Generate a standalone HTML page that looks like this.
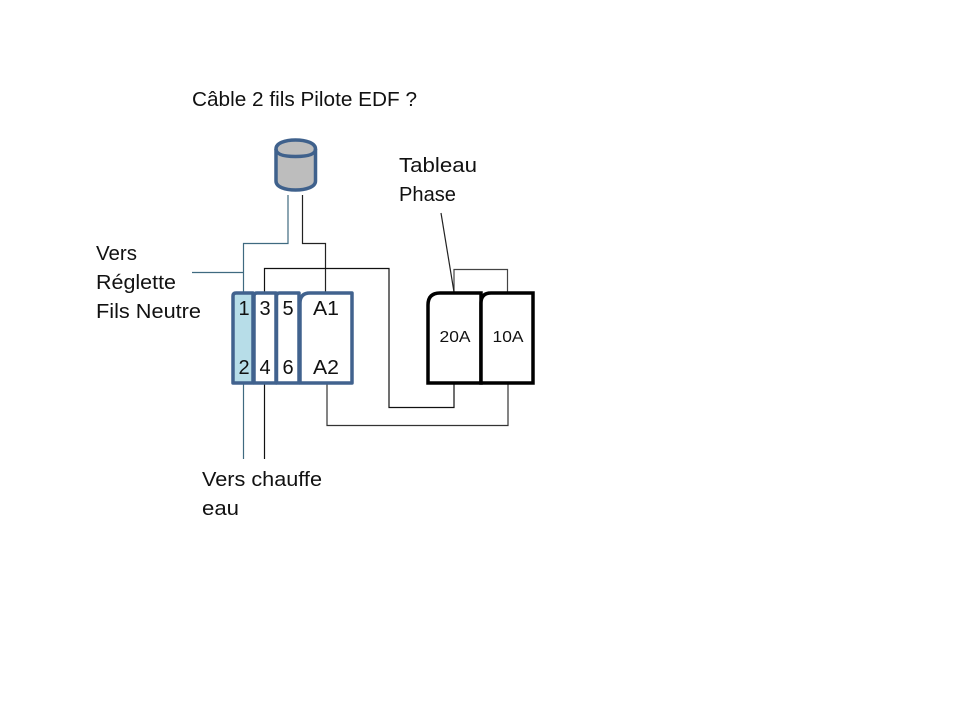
<!DOCTYPE html>
<html>
<head>
<meta charset="utf-8">
<style>
html,body{margin:0;padding:0;background:#fff}
svg{display:block}
text{font-family:"Liberation Sans",sans-serif;fill:#111}
</style>
</head>
<body>
<svg width="960" height="720" viewBox="0 0 960 720" xmlns="http://www.w3.org/2000/svg">
<rect width="960" height="720" fill="#fff"/>
<!-- wires -->
<g fill="none" stroke-width="1.2">
<path d="M288 195V243.500H243.500V292" stroke="#3f6a80"/>
<path d="M192 272.500H243" stroke="#3f6a80"/>
<path d="M243.500 382V459" stroke="#3f6a80"/>
<path d="M302.500 195V243.500H325.500V292" stroke="#222"/>
<path d="M264.500 292V268.500H389V407.500H454V383" stroke="#111"/>
<path d="M264.500 382V459" stroke="#111"/>
<path d="M327 383V425.500H508V383" stroke="#333"/>
<path d="M454 293V269.500H507.500V293" stroke="#444"/>
<path d="M441 213L454 292" stroke="#222"/>
</g>
<!-- cylinder -->
<path d="M276 149C276 143 285 140 295.500 140S315.500 143 315.500 149V181C315.500 187 306 190 295.500 190S276 187 276 181Z" fill="#bdbdbd" stroke="#3f618c" stroke-width="3.500"/>
<path d="M276 149C276 155 285 156.500 295.500 156.500S315.500 155 315.500 149" fill="none" stroke="#3f618c" stroke-width="3.500"/>
<!-- terminal blocks -->
<g stroke="#41628e" stroke-width="3.500" stroke-linejoin="round">
<path d="M233 296Q233 293 236 293H253V383H233Z" fill="#b7dde8"/>
<path d="M254 296Q254 293 257 293H276V383H254Z" fill="#fff"/>
<path d="M276.500 296Q276.500 293 279.500 293H299V383H276.500Z" fill="#fff"/>
<path d="M300 303Q300 293 310 293H352V383H300Z" fill="#fff"/>
</g>
<!-- breakers -->
<g stroke="#000" stroke-width="3.500" fill="#fff" stroke-linejoin="miter">
<path d="M428 305Q428 293 440 293H481V383H428Z"/>
<path d="M481 303Q481 293 491 293H533V383H481Z"/>
</g>
<!-- block labels -->
<g font-size="20" text-anchor="middle">
<text x="244" y="315">1</text>
<text x="265" y="315">3</text>
<text x="288" y="315">5</text>
<text x="326" y="315" textLength="26" lengthAdjust="spacingAndGlyphs">A1</text>
<text x="244" y="374">2</text>
<text x="265" y="374">4</text>
<text x="288" y="374">6</text>
<text x="326" y="374" textLength="26" lengthAdjust="spacingAndGlyphs">A2</text>
</g>
<g font-size="16" text-anchor="middle">
<text x="455" y="342" textLength="31" lengthAdjust="spacingAndGlyphs">20A</text>
<text x="508" y="342" textLength="31" lengthAdjust="spacingAndGlyphs">10A</text>
</g>
<!-- captions -->
<g font-size="20">
<text x="192" y="106" textLength="225" lengthAdjust="spacingAndGlyphs">Câble 2 fils Pilote EDF ?</text>
<text x="399" y="172" textLength="78" lengthAdjust="spacingAndGlyphs">Tableau</text>
<text x="399" y="201" textLength="57" lengthAdjust="spacingAndGlyphs">Phase</text>
<text x="96" y="260" textLength="41" lengthAdjust="spacingAndGlyphs">Vers</text>
<text x="96" y="289" textLength="80" lengthAdjust="spacingAndGlyphs">Réglette</text>
<text x="96" y="318" textLength="105" lengthAdjust="spacingAndGlyphs">Fils Neutre</text>
<text x="202" y="486" textLength="120" lengthAdjust="spacingAndGlyphs">Vers chauffe</text>
<text x="202" y="515" textLength="37" lengthAdjust="spacingAndGlyphs">eau</text>
</g>
</svg>
</body>
</html>
